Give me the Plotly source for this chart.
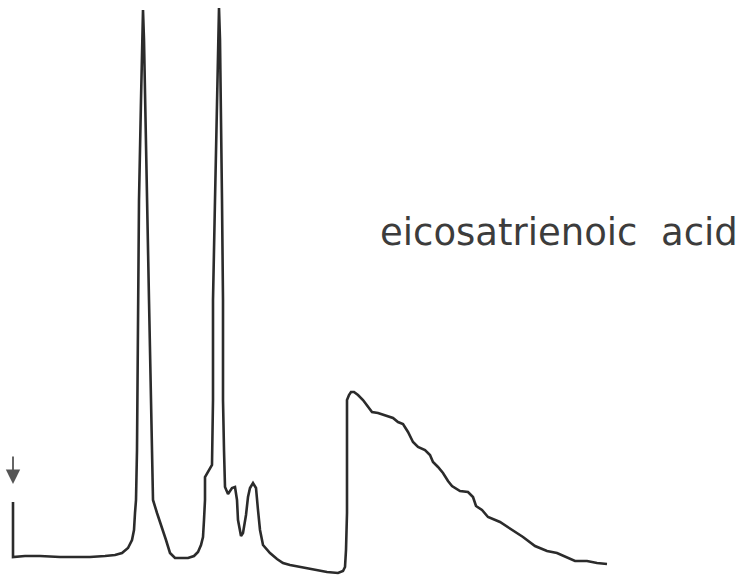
import plotly.graph_objects as go

# Chromatogram trace (time units ~ px, response units ~ px above bottom)
time = [13, 13, 25, 40, 60, 90, 105, 115, 122, 128, 132, 134, 135, 136, 137, 138, 139, 141, 142, 143,
        144, 145, 147, 149, 151, 152, 153, 157, 162, 166, 170, 175, 182, 188, 194, 198, 201, 203, 204,
        205, 205, 208, 212, 213, 213, 215, 217, 218, 219, 220, 221, 222, 223, 223, 224, 225, 228, 232,
        235, 237, 238, 240, 241, 243, 246, 248, 250, 253, 256, 258, 260, 263, 270, 277, 283, 290, 300,
        315, 327, 338, 343, 345, 346, 347, 347, 347, 349, 351, 354, 358, 363, 368, 372, 378, 387, 393,
        398, 403, 408, 413, 418, 425, 430, 433, 438, 443, 448, 452, 460, 468, 473, 476, 482, 488, 500,
        512, 523, 535, 547, 557, 567, 575, 587, 597, 607]
pixel_row = [502, 557, 556, 556, 557, 557, 556, 555, 553, 548, 540, 530, 513, 500, 450, 300, 200, 100, 40, 10,
             40, 100, 200, 300, 400, 480, 500, 513, 527, 540, 553, 558, 558, 558, 556, 552, 545, 537, 520,
             500, 477, 472, 465, 400, 300, 200, 100, 40, 8, 40, 100, 200, 300, 400, 450, 487, 494, 488,
             487, 500, 520, 533, 536, 533, 515, 497, 488, 483, 488, 510, 530, 545, 553, 559, 563, 565, 567,
             570, 572, 573, 571, 567, 550, 513, 450, 400, 395, 392, 392, 395, 400, 407, 412, 413, 416, 418,
             422, 424, 432, 442, 447, 450, 455, 462, 467, 473, 481, 486, 491, 492, 497, 506, 510, 517, 522,
             530, 537, 546, 551, 553, 557, 561, 561, 563, 564]
HEIGHT = 581
response = [HEIGHT - r for r in pixel_row]

label = "eicosatrienoic\u00a0\u00a0acid"
injection_x = 13
injection_tip = HEIGHT - 484
injection_tail = HEIGHT - 455

fig = go.Figure()
fig.add_trace(go.Scatter(x=time, y=response, mode="lines",
                         line=dict(color="#2b2b2b", width=2.6), hoverinfo="skip"))

fig.add_annotation(x=378, y=HEIGHT - 232, xref="x", yref="y", text=label, showarrow=False,
                   xanchor="left", yanchor="middle",
                   font=dict(family="DejaVu Sans", size=37, color="#3c3c3c"))

fig.add_annotation(x=injection_x, y=injection_tip, ax=injection_x, ay=injection_tail,
                   xref="x", yref="y", axref="x", ayref="y", text="", showarrow=True,
                   arrowhead=2, arrowsize=1.6, arrowwidth=1.8, arrowcolor="#555555")

fig.update_layout(width=746, height=581, margin=dict(l=0, r=0, t=0, b=0),
                  paper_bgcolor="white", plot_bgcolor="white", showlegend=False)
fig.update_xaxes(range=[0, 746], visible=False)
fig.update_yaxes(range=[0, HEIGHT], visible=False)

fig.write_html("out.html")
